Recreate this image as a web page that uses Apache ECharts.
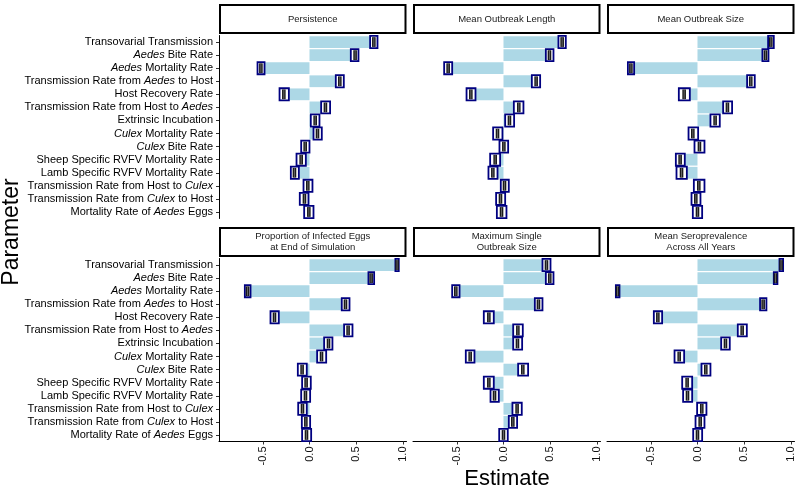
<!DOCTYPE html>
<html>
<head>
<meta charset="utf-8">
<script src="https://cdn.jsdelivr.net/npm/echarts@6/dist/echarts.min.js"></script>
<style>html,body{margin:0;padding:0;background:#fff}#c{width:800px;height:486px}</style>
</head>
<body>
<div id="c"></div>
<script>
const categories = [
  'Transovarial Transmission', 'Aedes Bite Rate', 'Aedes Mortality Rate',
  'Transmission Rate from Aedes to Host', 'Host Recovery Rate',
  'Transmission Rate from Host to Aedes', 'Extrinsic Incubation',
  'Culex Mortality Rate', 'Culex Bite Rate', 'Sheep Specific RVFV Mortality Rate',
  'Lamb Specific RVFV Mortality Rate', 'Transmission Rate from Host to Culex',
  'Transmission Rate from Culex to Host', 'Mortality Rate of Aedes Eggs'
];
const panelTitles = [
  'Persistence', 'Mean Outbreak Length', 'Mean Outbreak Size',
  'Proportion of Infected Eggs\nat End of Simulation', 'Maximum Single\nOutbreak Size',
  'Mean Seroprevalence\nAcross All Years'
];
const xTickValues = [-0.5, 0, 0.5, 1];

// Persistence
const persistenceMed = [0.69, 0.489, -0.521, 0.325, -0.275, 0.171, 0.061, 0.086, -0.046, -0.089, -0.161, -0.018, -0.054, -0.007];
const persistenceLo  = [0.65, 0.443, -0.557, 0.282, -0.321, 0.125, 0.014, 0.043, -0.089, -0.139, -0.200, -0.064, -0.104, -0.057];
const persistenceHi  = [0.729, 0.525, -0.482, 0.368, -0.221, 0.221, 0.107, 0.132, 0.000, -0.039, -0.114, 0.032, -0.011, 0.043];
// Mean Outbreak Length
const lengthMed = [0.629, 0.493, -0.593, 0.35, -0.35, 0.164, 0.064, -0.064, 0.004, -0.089, -0.114, 0.011, -0.032, -0.021];
const lengthLo  = [0.589, 0.454, -0.636, 0.304, -0.396, 0.111, 0.018, -0.111, -0.043, -0.143, -0.161, -0.029, -0.079, -0.071];
const lengthHi  = [0.668, 0.536, -0.55, 0.393, -0.30, 0.214, 0.114, -0.011, 0.05, -0.036, -0.064, 0.057, 0.018, 0.032];
// Mean Outbreak Size
const sizeMed = [0.786, 0.729, -0.714, 0.571, -0.143, 0.321, 0.189, -0.05, 0.021, -0.186, -0.171, 0.014, -0.018, 0.0];
const sizeLo  = [0.757, 0.696, -0.746, 0.532, -0.20, 0.275, 0.139, -0.096, -0.032, -0.232, -0.225, -0.039, -0.064, -0.05];
const sizeHi  = [0.818, 0.761, -0.679, 0.614, -0.082, 0.371, 0.239, 0.007, 0.075, -0.136, -0.114, 0.075, 0.032, 0.05];
// Proportion of Infected Eggs
const eggsMed = [0.939, 0.661, -0.664, 0.386, -0.375, 0.414, 0.204, 0.129, -0.079, -0.036, -0.043, -0.075, -0.039, -0.032];
const eggsLo  = [0.921, 0.632, -0.693, 0.346, -0.418, 0.371, 0.157, 0.082, -0.125, -0.079, -0.089, -0.121, -0.082, -0.079];
const eggsHi  = [0.957, 0.693, -0.632, 0.429, -0.329, 0.461, 0.246, 0.179, -0.029, 0.014, 0.007, -0.029, 0.007, 0.018];
// Maximum Single Outbreak Size
const maxMed = [0.461, 0.496, -0.511, 0.375, -0.157, 0.154, 0.15, -0.357, 0.207, -0.157, -0.096, 0.146, 0.10, 0.0];
const maxLo  = [0.418, 0.454, -0.55, 0.336, -0.211, 0.104, 0.104, -0.404, 0.157, -0.211, -0.139, 0.096, 0.057, -0.046];
const maxHi  = [0.504, 0.536, -0.471, 0.418, -0.104, 0.207, 0.20, -0.311, 0.264, -0.104, -0.05, 0.196, 0.146, 0.046];
// Mean Seroprevalence
const seroMed = [0.896, 0.836, -0.857, 0.704, -0.425, 0.479, 0.30, -0.196, 0.089, -0.111, -0.107, 0.046, 0.029, 0.0];
const seroLo  = [0.879, 0.818, -0.875, 0.671, -0.468, 0.432, 0.254, -0.246, 0.043, -0.164, -0.154, -0.004, -0.021, -0.046];
const seroHi  = [0.918, 0.857, -0.836, 0.739, -0.379, 0.529, 0.346, -0.143, 0.139, -0.057, -0.057, 0.096, 0.075, 0.05];

const panelMed = [persistenceMed, lengthMed, sizeMed, eggsMed, maxMed, seroMed];
const panelLo = [persistenceLo, lengthLo, sizeLo, eggsLo, maxLo, seroLo];
const panelHi = [persistenceHi, lengthHi, sizeHi, eggsHi, maxHi, seroHi];

const FONT = 'Liberation Sans, Arial, sans-serif';
const colLeft = [219, 413, 607];
const gridW = 187.5;
const rowTop = [35.5, 258.5];
const gridH = 183;
const stripTop = [4, 227];
const stripH = 29;

const grids = [], xAxes = [], yAxes = [], series = [], graphics = [];
for (let p = 0; p < 6; p++) {
  const c = p % 3, r = Math.floor(p / 3);
  grids.push({left: colLeft[c], top: rowTop[r], width: gridW, height: gridH, containLabel: false});
  xAxes.push({
    type: 'value', gridIndex: p, min: -0.97, max: 1.04,
    splitLine: {show: false},
    axisLine: {show: r === 1, onZero: false, lineStyle: {color: '#000', width: 1}},
    axisTick: {show: r === 1, length: 3, lineStyle: {color: '#333'}, customValues: xTickValues},
    axisLabel: {show: r === 1, rotate: 90, margin: 5, fontSize: 11, color: '#111', fontFamily: FONT,
      customValues: xTickValues, formatter: v => v.toFixed(1)}
  });
  yAxes.push({
    type: 'category', gridIndex: p, data: categories, inverse: true,
    axisLine: {show: c === 0, onZero: false, lineStyle: {color: '#000', width: 1}},
    axisTick: {show: c === 0, length: 3, interval: 0, alignWithLabel: true, lineStyle: {color: '#333'}},
    axisLabel: {show: c === 0, interval: 0, margin: 6, fontSize: 11, color: '#000', fontFamily: FONT,
      formatter: v => v.replace(/(Aedes|Culex)/g, '{i|$1}'),
      rich: {i: {fontStyle: 'italic', fontSize: 11, color: '#000', fontFamily: FONT}}},
    splitLine: {show: false}
  });
  series.push({
    type: 'bar', xAxisIndex: p, yAxisIndex: p, data: panelMed[p],
    barWidth: '90%', itemStyle: {color: '#ADD8E6'}, silent: true, z: 2
  });
  const boxData = categories.map((_, i) => [panelLo[p][i], panelHi[p][i], panelMed[p][i], i]);
  series.push({
    type: 'custom', xAxisIndex: p, yAxisIndex: p, data: boxData, z: 3,
    encode: {x: [0, 1, 2], y: 3}, silent: true,
    renderItem: (params, api) => {
      const yi = api.value(3);
      const a = api.coord([api.value(0), yi]);
      const b = api.coord([api.value(1), yi]);
      const m = api.coord([api.value(2), yi]);
      const h = api.size([0, 1])[1] * 0.93;
      const w = Math.max(b[0] - a[0], 3);
      return {type: 'group', children: [
        {type: 'rect', shape: {x: a[0], y: a[1] - h / 2, width: w, height: h},
          style: {fill: '#fff', stroke: '#000080', lineWidth: 1.8}},
        {type: 'rect', shape: {x: m[0] - 1.8, y: a[1] - h / 2 + 1.2, width: 3.6, height: h - 2.4},
          style: {fill: '#1a1a1a'}},
        {type: 'line', shape: {x1: m[0], y1: a[1] - h / 2 + 1.5, x2: m[0], y2: a[1] + h / 2 - 1.5},
          style: {stroke: '#888', lineWidth: 0.7}}
      ]};
    }
  });
  // strip
  graphics.push({type: 'rect', shape: {x: colLeft[c] + 1, y: stripTop[r] + 1, width: gridW - 2, height: stripH - 1},
    style: {fill: '#fff', stroke: '#000', lineWidth: 2}});
  graphics.push({type: 'text', x: colLeft[c] + gridW / 2, y: stripTop[r] + stripH / 2 + 0.5,
    style: {text: panelTitles[p], fill: '#1a1a1a', font: '9.5px ' + FONT, textAlign: 'center',
      textVerticalAlign: 'middle', lineHeight: 10.5}});
}
graphics.push({type: 'text', x: 507, y: 479,
  style: {text: 'Estimate', fill: '#000', font: '22px ' + FONT, textAlign: 'center', textVerticalAlign: 'middle'}});
graphics.push({type: 'text', x: 12, y: 232, rotation: Math.PI / 2,
  style: {text: 'Parameter', fill: '#000', font: '23px ' + FONT, textAlign: 'center', textVerticalAlign: 'middle'}});

const chart = echarts.init(document.getElementById('c'), null, {renderer: 'canvas'});
chart.setOption({
  animation: false,
  backgroundColor: '#fff',
  grid: grids, xAxis: xAxes, yAxis: yAxes, series: series,
  graphic: graphics
});
</script>
</body>
</html>
